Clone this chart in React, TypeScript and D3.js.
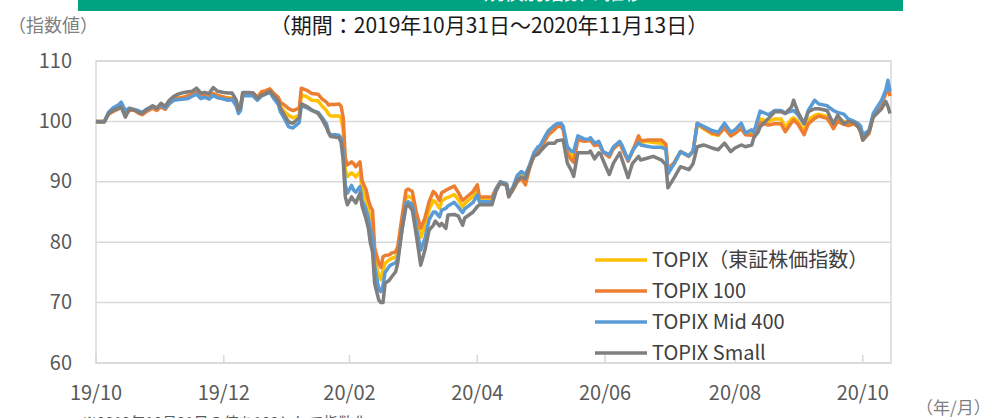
import React from "react";
import * as d3 from "d3";

const dates = [
  "2019-10-31","2019-11-01","2019-11-04","2019-11-06","2019-11-08","2019-11-11","2019-11-12","2019-11-14","2019-11-16","2019-11-18",
  "2019-11-20","2019-11-22","2019-11-24","2019-11-27","2019-11-29","2019-12-01","2019-12-03","2019-12-05","2019-12-07","2019-12-09",
  "2019-12-12","2019-12-14","2019-12-16","2019-12-18","2019-12-20","2019-12-22","2019-12-24","2019-12-26","2019-12-28","2019-12-31",
  "2020-01-02","2020-01-04","2020-01-06","2020-01-07","2020-01-08","2020-01-09","2020-01-12","2020-01-14","2020-01-16","2020-01-18",
  "2020-01-20","2020-01-22","2020-01-24","2020-01-26","2020-01-27","2020-01-29","2020-01-31","2020-02-02","2020-02-05","2020-02-06",
  "2020-02-09","2020-02-11","2020-02-14","2020-02-16","2020-02-18","2020-02-19","2020-02-20","2020-02-22","2020-02-24","2020-02-25",
  "2020-02-26","2020-02-27","2020-02-28","2020-03-01","2020-03-02","2020-03-03","2020-03-05","2020-03-06","2020-03-08","2020-03-09",
  "2020-03-10","2020-03-11","2020-03-12","2020-03-14","2020-03-15","2020-03-16","2020-03-17","2020-03-19","2020-03-20","2020-03-22",
  "2020-03-23","2020-03-25","2020-03-27","2020-03-28","2020-03-30","2020-04-01","2020-04-03","2020-04-05","2020-04-07","2020-04-09",
  "2020-04-10","2020-04-12","2020-04-13","2020-04-15","2020-04-16","2020-04-19","2020-04-21","2020-04-23","2020-04-24","2020-04-28",
  "2020-04-30","2020-05-01","2020-05-04","2020-05-07","2020-05-09","2020-05-11","2020-05-14","2020-05-15","2020-05-17","2020-05-19",
  "2020-05-21","2020-05-23","2020-05-25","2020-05-27","2020-05-29","2020-05-30","2020-06-01","2020-06-03","2020-06-06","2020-06-07",
  "2020-06-09","2020-06-10","2020-06-12","2020-06-14","2020-06-15","2020-06-17","2020-06-20","2020-06-22","2020-06-23","2020-06-25",
  "2020-06-27","2020-06-28","2020-06-29","2020-07-02","2020-07-04","2020-07-07","2020-07-08","2020-07-11","2020-07-13","2020-07-16",
  "2020-07-17","2020-07-20","2020-07-23","2020-07-27","2020-07-29","2020-07-30","2020-08-02","2020-08-05","2020-08-09","2020-08-11",
  "2020-08-13","2020-08-16","2020-08-20","2020-08-23","2020-08-26","2020-08-29","2020-08-31","2020-09-03","2020-09-05","2020-09-08",
  "2020-09-09","2020-09-11","2020-09-12","2020-09-16","2020-09-19","2020-09-22","2020-09-24","2020-09-27","2020-09-28","2020-09-30",
  "2020-10-03","2020-10-05","2020-10-08","2020-10-10","2020-10-14","2020-10-15","2020-10-17","2020-10-19","2020-10-22","2020-10-24",
  "2020-10-27","2020-10-29","2020-10-30","2020-10-31","2020-11-03","2020-11-05","2020-11-09","2020-11-11","2020-11-12","2020-11-13",
];

const topix = [
  100,100,100,101.3,101.8,102.3,102.7,101.3,102.0,102.0,
  101.6,101.3,101.8,102.4,102.0,102.6,102.3,103.0,103.6,103.9,
  104.0,104.1,104.4,104.8,104.2,104.3,104.1,104.6,104.3,104.0,
  103.9,103.8,103.0,101.8,102.5,104.5,104.6,104.5,103.9,104.6,
  104.9,105.1,104.2,103.5,102.5,101.6,101.0,100.6,101.0,104.4,
  104.0,103.5,103.4,102.5,101.8,101.2,100.9,100.9,100.9,100.5,
  98.5,92.0,90.9,91.5,91.2,90.8,91.6,88.8,87.0,85.5,
  84.0,83.5,77.4,74.3,73.8,75.4,76.5,77.1,77.3,77.5,
  78.5,83.0,87.4,87.6,87.3,83.6,80.8,82.6,85.4,86.9,
  86.7,85.6,86.8,87.3,87.4,87.9,87.0,85.9,86.4,87.6,
  88.8,87.0,87.0,87.0,88.8,90.0,89.6,87.8,88.9,90.5,
  91.1,90.1,92.5,94.4,95.4,95.3,96.8,98.0,98.9,99.2,
  99.3,98.8,95.4,94.4,93.9,97.2,96.9,96.9,97.0,96.2,
  96.5,95.8,95.0,94.3,95.6,96.5,95.8,93.6,95.0,97.3,
  96.5,96.7,96.5,96.4,95.8,91.8,93.1,95.0,94.3,95.0,
  99.5,98.8,97.9,97.7,99.0,97.7,98.1,99.0,98.0,98.1,
  98.0,99.6,100.4,100.0,100.4,100.4,99.0,100.4,100.6,100.0,
  98.4,100.3,101.0,101.2,100.8,100.4,99.5,100.5,100.0,99.8,
  99.8,99.4,98.6,97.3,98.3,101.0,102.8,104.7,106.0,104.2,
];

const topix100 = [
  100,100,100,101.2,101.6,102.1,102.5,101.5,101.8,101.9,
  101.4,101.1,101.6,102.2,101.8,102.4,102.0,102.9,103.5,103.8,
  104.0,104.3,104.5,104.9,104.2,104.4,104.1,104.6,104.3,104.0,
  103.8,103.8,103.0,101.8,102.4,104.4,104.6,104.7,104.0,104.9,
  105.1,105.4,104.6,104.0,103.2,102.7,102.1,101.8,102.2,105.5,
  105.1,104.6,104.5,103.7,103.2,102.7,102.8,102.8,102.9,102.5,
  100.6,94.0,92.8,93.3,93.0,92.5,93.3,90.2,88.6,87.0,
  85.9,85.3,79.1,76.5,75.8,77.6,77.8,77.9,78.2,78.4,
  79.2,84.0,88.6,88.8,88.4,84.8,82.3,84.0,86.7,88.4,
  88.1,86.9,88.2,88.6,88.8,89.3,88.2,86.9,87.2,88.4,
  89.5,87.5,87.5,87.5,88.9,90.0,89.4,87.6,88.6,89.9,
  90.6,89.5,92.3,94.4,95.3,95.4,96.6,97.8,98.7,99.1,
  99.2,98.6,94.6,93.6,93.2,97.0,96.7,96.8,96.8,96.0,
  96.2,95.6,94.9,94.1,95.5,96.4,95.6,93.4,95.0,97.6,
  96.8,96.9,96.9,96.9,96.2,92.1,93.2,95.0,94.2,95.1,
  99.7,98.9,98.1,97.8,98.9,97.6,98.0,98.8,97.8,97.7,
  97.6,99.0,99.8,99.4,99.6,99.6,98.3,99.8,100.2,99.6,
  97.8,99.6,100.5,100.9,100.5,100.0,98.8,100.0,99.5,99.3,
  99.6,99.0,98.2,96.9,98.0,101.0,102.9,104.6,105.8,104.2,
];

const mid400 = [
  100,100,100,101.5,102.2,102.8,103.2,101.8,102.2,102.0,
  101.8,101.5,102.0,102.5,102.2,102.7,102.2,103.0,103.5,103.6,
  103.7,103.8,104.2,104.5,103.8,104.0,103.7,104.3,103.9,103.7,
  103.5,103.6,102.5,101.3,101.8,104.2,104.3,104.2,103.5,104.2,
  104.5,104.8,103.7,102.8,101.6,100.4,99.1,98.9,99.8,102.6,
  102.2,101.8,101.5,100.6,99.6,98.3,97.8,97.8,97.7,97.2,
  95.0,89.5,88.1,89.4,88.6,88.3,89.2,87.0,85.3,84.0,
  82.0,81.0,76.0,72.1,71.8,72.9,75.0,76.0,76.3,76.6,
  77.2,81.8,86.5,86.7,86.2,82.2,78.7,80.6,83.7,85.0,
  85.0,84.2,85.3,85.6,86.0,86.6,85.8,84.9,85.5,86.6,
  87.8,86.7,86.7,86.7,88.8,90.0,89.7,88.0,89.1,91.0,
  91.7,91.2,92.8,94.8,95.8,96.0,97.3,98.5,99.4,99.6,
  99.7,99.2,95.8,95.0,95.0,97.6,97.1,97.0,97.3,96.4,
  96.7,95.9,95.0,94.5,95.8,96.7,96.1,93.6,95.1,96.5,
  96.1,95.9,95.7,95.7,95.4,91.3,93.0,95.0,94.3,95.0,
  99.7,99.2,98.5,98.2,99.7,98.2,98.6,99.7,98.1,98.6,
  98.2,100.5,101.7,101.1,101.8,101.8,101.4,101.7,101.8,101.1,
  99.6,101.8,103.5,102.9,102.6,102.3,101.8,101.5,101.2,100.4,
  100.0,99.6,99.2,97.8,98.5,101.3,103.5,105.2,106.8,104.9,
];

const small = [
  100,99.9,99.9,101.3,101.8,102.2,102.4,100.7,102.1,101.9,
  101.6,101.3,101.9,102.6,102.2,103.0,102.5,103.5,104.1,104.5,
  104.8,104.9,105.0,105.5,104.7,104.8,104.6,105.6,105.0,104.8,
  104.7,104.7,103.5,101.9,102.3,104.8,104.8,104.7,103.8,104.3,
  104.6,105.0,104.2,103.4,102.2,101.0,99.9,99.7,100.6,102.9,
  102.4,101.9,101.3,100.3,99.0,98.1,97.5,97.4,97.3,96.5,
  93.5,87.5,86.2,87.5,87.0,86.5,88.1,86.0,83.7,82.3,
  79.8,78.4,73.2,70.4,70.0,70.0,73.2,73.7,74.2,75.1,
  76.5,82.0,85.9,86.2,85.3,80.9,76.2,78.7,82.0,82.8,
  83.5,82.7,83.1,82.3,84.5,84.6,84.3,82.8,84.0,85.0,
  85.9,86.2,86.2,86.2,88.5,89.8,89.4,87.5,88.8,90.2,
  90.8,90.5,92.5,94.2,94.6,95.0,95.8,96.4,96.4,96.8,
  96.9,96.9,93.1,91.8,90.9,94.8,94.8,94.8,95.1,93.8,
  94.8,94.5,93.6,91.2,93.1,94.8,93.8,90.7,93.0,94.2,
  93.6,93.9,94.2,93.6,92.8,89.0,90.7,92.5,92.0,93.0,
  95.8,96.1,95.6,95.3,96.4,95.0,95.6,96.1,95.8,96.1,
  97.3,98.2,99.1,100.5,101.6,101.6,101.3,102.4,103.5,101.6,
  99.6,101.6,102.1,102.1,101.8,101.0,99.6,101.0,99.6,100.0,
  99.8,99.0,98.3,96.9,98.3,100.7,102.1,103.3,102.5,101.3,
];

const seriesNames = ["TOPIX（東証株価指数）", "TOPIX 100", "TOPIX Mid 400", "TOPIX Small"];
const seriesColors = ["#FFC000", "#ED7D31", "#5B9BD5", "#7F7F7F"];
const yTicks = [60, 70, 80, 90, 100, 110];
const xTickDates = ["2019-10-31", "2019-12-31", "2020-02-29", "2020-04-30", "2020-06-30", "2020-08-31", "2020-10-31"];
const xTickLabels = ["19/10", "19/12", "20/02", "20/04", "20/06", "20/08", "20/10"];
const periodText = "（期間：2019年10月31日～2020年11月13日）";
const yUnitText = "（指数値）";
const xUnitText = "（年/月）";
const noteText = "※2019年10月31日の値を100として指数化";
const bannerText = "TOPIX規模別指数の推移";

const FONT = "'Noto Sans CJK JP', 'Noto Sans', sans-serif";

export default function App() {
  const W = 993;
  const H = 418;
  const left = 96, right = 890, top = 61, bottom = 363;
  const parse = d3.utcParse("%Y-%m-%d");
  const xDates = dates.map((d) => parse(d) as Date);
  const x = d3.scaleUtc().domain([parse("2019-10-31") as Date, parse("2020-11-13") as Date]).range([left, right]);
  const y = d3.scaleLinear().domain([60, 110]).range([bottom, top]);
  const series = [topix, topix100, mid400, small];
  const line = d3
    .line<number>()
    .x((_, i) => x(xDates[i]))
    .y((v) => y(v));

  const legendY = [258, 289, 320, 351];

  return (
    <svg
      width={W}
      height={H}
      style={{ position: "absolute", left: 0, top: 0, background: "#fff" }}
      fontFamily={FONT}
    >
      <rect x={78} y={0} width={825} height={11} fill="#00A381" />
      <clipPath id="bannerClip">
        <rect x={78} y={0} width={825} height={11} />
      </clipPath>
      <text x={536} y={0} textAnchor="middle" fontSize={20} fill="#fff" clipPath="url(#bannerClip)">
        {bannerText}
      </text>
      <text x={8} y={32} fontSize={18} fill="#7F7F7F">
        {yUnitText}
      </text>
      <text x={489} y={33} fontSize={21} fill="#1a1a1a" textAnchor="middle">
        {periodText}
      </text>

      {/* grid */}
      {yTicks.map((t) => (
        <line key={t} x1={left} x2={right + 1} y1={y(t)} y2={y(t)} stroke="#D9D9D9" strokeWidth={1.5} />
      ))}
      <rect x={left} y={top} width={right + 1 - left} height={bottom - top} fill="none" stroke="#D9D9D9" strokeWidth={1.5} />
      {xTickDates.map((d) => {
        const px = x(parse(d) as Date);
        return <line key={d} x1={px} x2={px} y1={bottom} y2={bottom - 8} stroke="#D9D9D9" strokeWidth={1.5} />;
      })}

      {/* y labels */}
      {yTicks.map((t) => (
        <text key={t} x={72} y={y(t) - 2} fontSize={20} fill="#595959" textAnchor="end" dominantBaseline="central">
          {t}
        </text>
      ))}
      {/* x labels */}
      {xTickDates.map((d, i) => (
        <text key={d} x={x(parse(d) as Date)} y={391} fontSize={20} fill="#595959" textAnchor="middle" dominantBaseline="central">
          {xTickLabels[i]}
        </text>
      ))}
      <text x={916} y={414} fontSize={17} fill="#7F7F7F">
        {xUnitText}
      </text>
      <text x={82} y={428} fontSize={15} fill="#595959">
        {noteText}
      </text>

      {/* lines */}
      {series.map((s, i) => (
        <path key={i} d={line(s) || ""} fill="none" stroke={seriesColors[i]} strokeWidth={3.5} strokeLinejoin="round" />
      ))}

      {/* legend */}
      {seriesNames.map((n, i) => (
        <g key={n}>
          <line x1={595} x2={647} y1={legendY[i] + 2} y2={legendY[i] + 2} stroke={seriesColors[i]} strokeWidth={3.5} />
          <text x={652} y={legendY[i]} fontSize={20} fill="#404040" dominantBaseline="central">
            {n}
          </text>
        </g>
      ))}
    </svg>
  );
}
